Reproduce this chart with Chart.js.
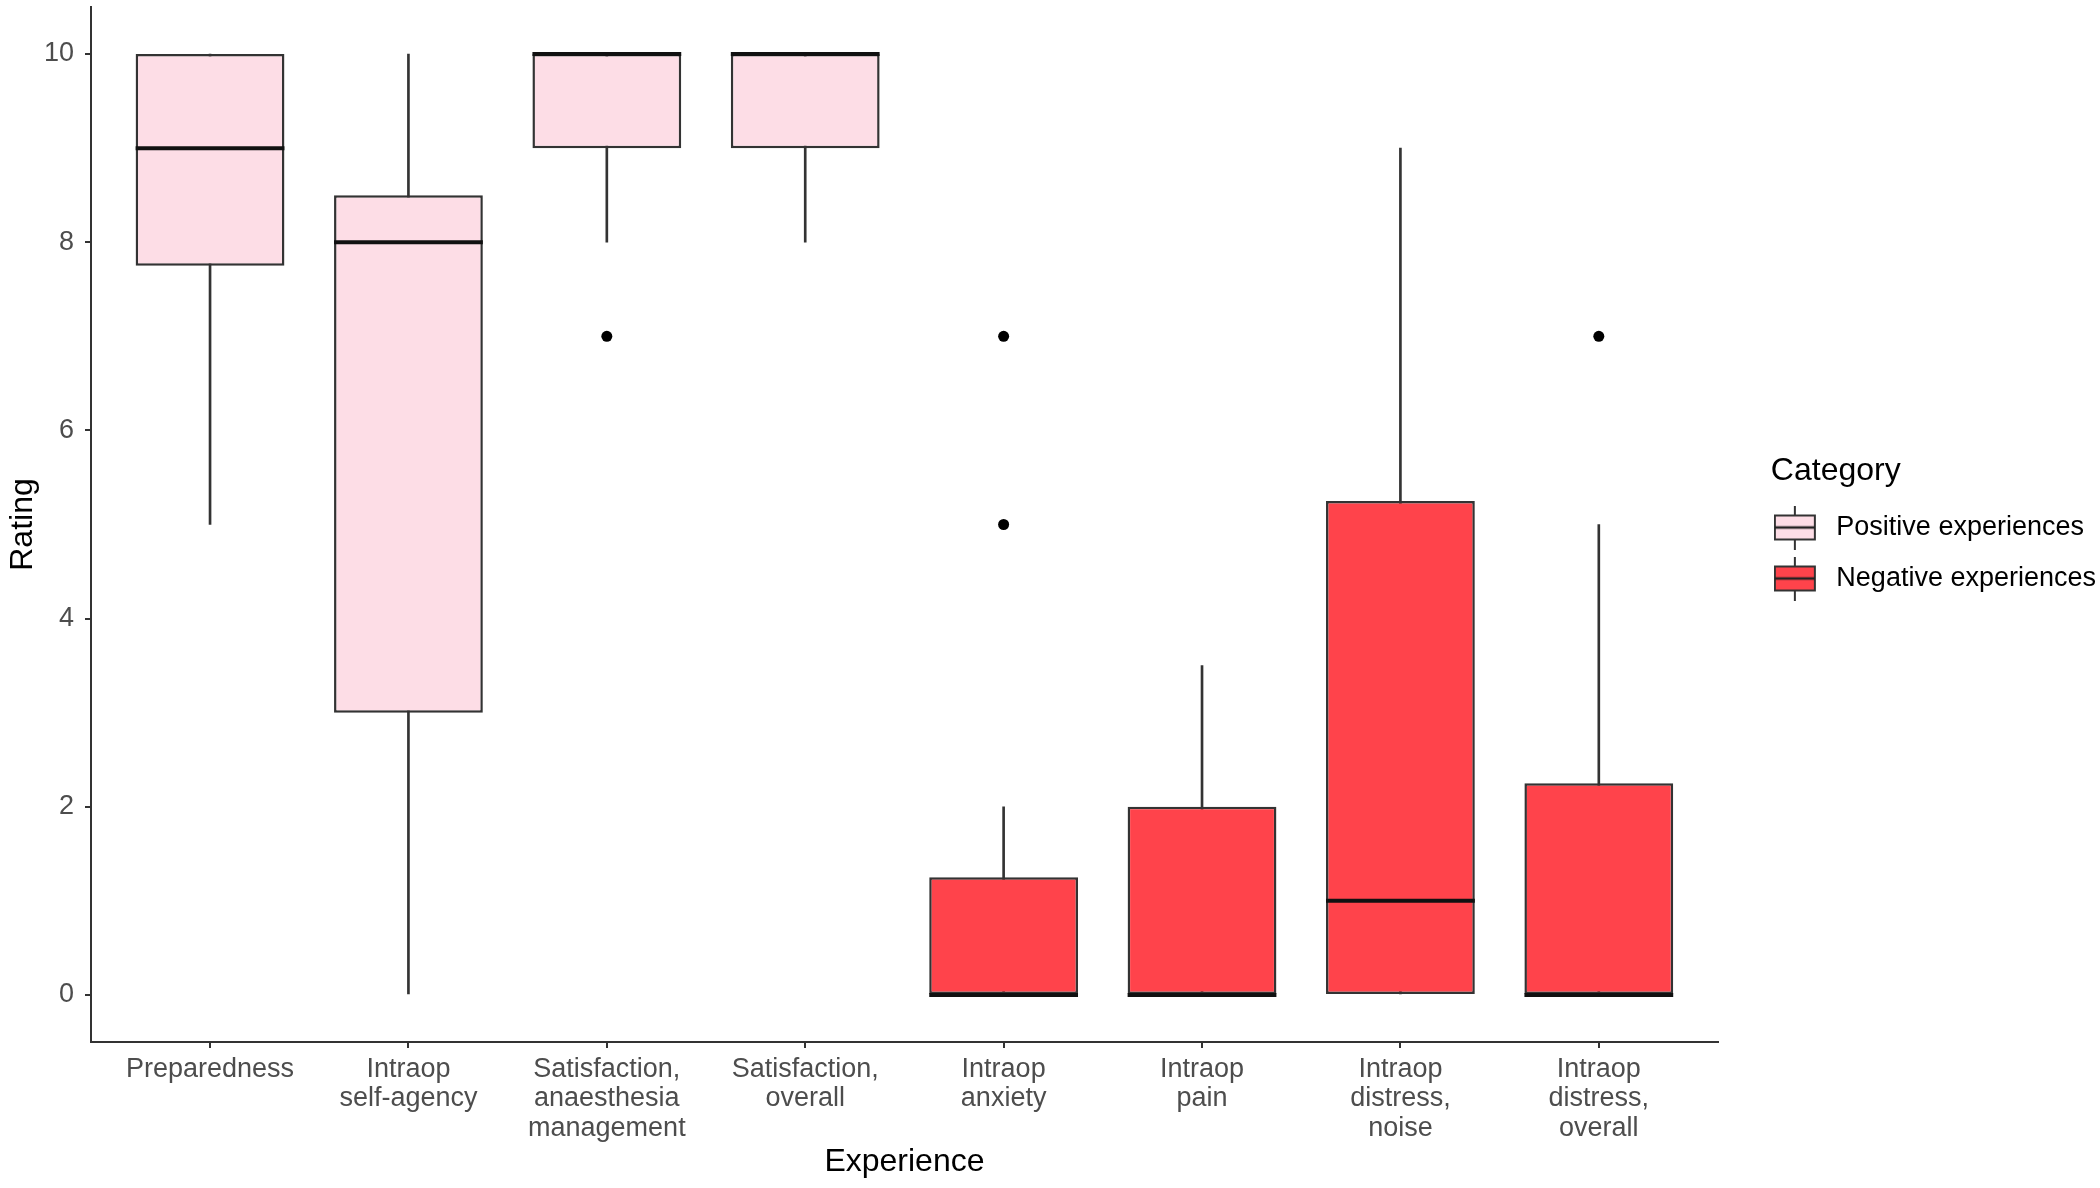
<!DOCTYPE html>
<html>
<head>
<meta charset="utf-8">
<script src="https://cdn.jsdelivr.net/npm/chart.js@4/dist/chart.umd.min.js"></script>
<style>
  html, body { margin: 0; padding: 0; background: #ffffff; }
  #wrap { width: 2100px; height: 1188px; }
</style>
</head>
<body>
<div id="wrap"><canvas id="c" width="2100" height="1188"></canvas></div>
<script>
// ---- data ----
const categories = [
  ['Preparedness'],
  ['Intraop', 'self-agency'],
  ['Satisfaction,', 'anaesthesia', 'management'],
  ['Satisfaction,', 'overall'],
  ['Intraop', 'anxiety'],
  ['Intraop', 'pain'],
  ['Intraop', 'distress,', 'noise'],
  ['Intraop', 'distress,', 'overall']
];
const groupNames = ['Positive experiences', 'Negative experiences'];
const categoryGroup = [0, 0, 0, 0, 1, 1, 1, 1];
const q1 = [7.75, 3, 9, 9, 0, 0, 0, 0];
const q3 = [10, 8.5, 10, 10, 1.25, 2, 5.25, 2.25];
const medians = [9, 8, 10, 10, 0, 0, 1, 0];
const whiskerLow = [5, 0, 8, 8, 0, 0, 0, 0];
const whiskerHigh = [10, 10, 10, 10, 2, 3.5, 9, 5];
const outlierIndex = [2, 4, 4, 7];
const outlierValue = [7, 7, 5, 7];
const yTicks = [0, 2, 4, 6, 8, 10];

// ---- styles ----
const groupColors = ['#FDDDE6', '#FF434B'];
const lineColor = '#333333';
Chart.defaults.font.family = '"Liberation Sans", Arial, sans-serif';

function legendGlyph(fill) {
  const cv = document.createElement('canvas');
  cv.width = 70; cv.height = 44;
  const g = cv.getContext('2d');
  g.strokeStyle = lineColor; g.lineWidth = 2;
  g.beginPath(); g.moveTo(21, 0); g.lineTo(21, 10); g.moveTo(21, 34); g.lineTo(21, 44); g.stroke();
  g.fillStyle = fill; g.fillRect(1, 10, 40, 24);
  g.strokeRect(1, 10, 40, 24);
  g.lineWidth = 2.5; g.strokeStyle = '#222';
  g.beginPath(); g.moveTo(1, 22); g.lineTo(41, 22); g.stroke();
  return cv;
}
const glyphs = groupColors.map(legendGlyph);

const datasets = [];
// whiskers (drawn behind boxes)
datasets.push({
  type: 'bar', label: 'whiskers', order: 3, grouped: false,
  data: categories.map((_, i) => ({ x: i, y: [whiskerLow[i], whiskerHigh[i]] })),
  backgroundColor: lineColor, borderWidth: 0, barThickness: 2
});
// boxes
groupNames.forEach((name, g) => {
  datasets.push({
    type: 'bar', label: name, order: 2, grouped: false,
    data: categories.map((_, i) => i).filter(i => categoryGroup[i] === g)
      .map(i => ({ x: i, y: [q1[i], q3[i]] })),
    backgroundColor: groupColors[g], borderColor: lineColor, borderWidth: 2.5,
    borderSkipped: false, barPercentage: 0.75, categoryPercentage: 1.0
  });
});
// medians
datasets.push({
  type: 'scatter', label: 'medians', order: 1,
  data: categories.map((_, i) => ({ x: i, y: medians[i] })),
  pointStyle: 'line',
  radius: (c) => { const s = c.chart.scales.x; return (s.getPixelForValue(1) - s.getPixelForValue(0)) * 0.375; },
  borderColor: '#111111', borderWidth: 4, showLine: false
});
// outliers
datasets.push({
  type: 'scatter', label: 'outliers', order: 0,
  data: outlierIndex.map((xi, k) => ({ x: xi, y: outlierValue[k] })),
  pointStyle: 'circle', radius: 5.5, backgroundColor: '#000', borderWidth: 0, showLine: false
});

// place the legend a little right of the panel, as in the reference
const legendGap = {
  id: 'legendGap',
  afterLayout(chart) {
    const lg = chart.legend;
    if (!lg) return;
    const dx = chart.chartArea.right + 53 - lg.left;
    lg.left += dx; lg.right += dx;
  }
};

new Chart(document.getElementById('c'), {
  type: 'bar',
  data: { datasets },
  plugins: [legendGap],
  options: {
    responsive: false, animation: false, events: [],
    layout: { padding: { left: 0, right: 47, top: 7, bottom: 0 } },
    scales: {
      x: {
        type: 'linear', min: -0.6, max: 7.6, offset: false,
        afterBuildTicks: (axis) => { axis.ticks = categories.map((_, i) => ({ value: i })); },
        afterFit: (axis) => { axis.height = 146; axis.paddingLeft = 0; axis.paddingRight = 0; },
        ticks: {
          callback: (v) => categories[v],
          color: '#4D4D4D', font: { size: 27, lineHeight: 1.075 }, padding: 7.5,
          maxRotation: 0, autoSkip: false
        },
        grid: { offset: false, drawOnChartArea: false, drawTicks: true, tickLength: 6, color: lineColor, lineWidth: 2 },
        border: { display: true, color: lineColor, width: 2 },
        title: { display: true, text: 'Experience', color: '#000', font: { size: 32 }, padding: { top: 0, bottom: 7 } }
      },
      y: {
        type: 'linear', min: -0.5, max: 10.5,
        afterBuildTicks: (axis) => { axis.ticks = yTicks.map(v => ({ value: v })); },
        afterFit: (axis) => { axis.width = 91; axis.paddingTop = 0; axis.paddingBottom = 0; },
        ticks: { color: '#4D4D4D', font: { size: 27 }, padding: 11 },
        grid: { drawOnChartArea: false, drawTicks: true, tickLength: 6, color: lineColor, lineWidth: 2 },
        border: { display: true, color: lineColor, width: 2 },
        title: { display: true, text: 'Rating', color: '#000', font: { size: 32 }, padding: { top: 4, bottom: 0 } }
      }
    },
    plugins: {
      tooltip: { enabled: false },
      legend: {
        display: true, position: 'right', fullSize: false,
        title: { display: true, text: 'Category', color: '#000', position: 'start',
                 font: { size: 32, lineHeight: 1 }, padding: { top: 22.5, bottom: 2.5 } },
        labels: {
          usePointStyle: true, pointStyleWidth: 28, padding: 24, color: '#000',
          font: { size: 27 },
          generateLabels: () => groupNames.map((name, g) => ({
            text: name, pointStyle: glyphs[g], fillStyle: groupColors[g],
            strokeStyle: lineColor, lineWidth: 2, hidden: false, datasetIndex: g + 1, fontColor: '#000'
          }))
        }
      }
    }
  }
});
</script>
</body>
</html>
